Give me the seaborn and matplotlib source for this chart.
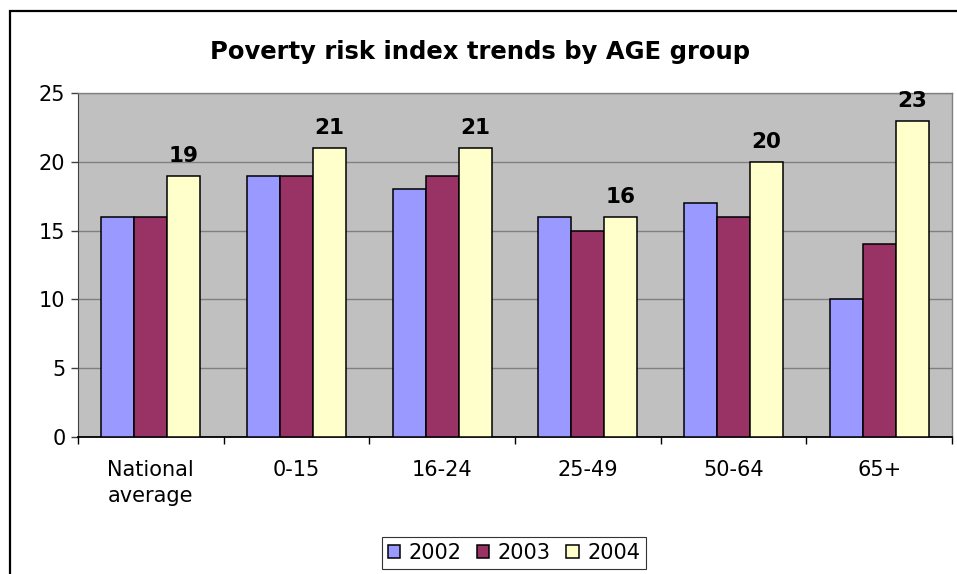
import numpy as np
import pandas as pd
import matplotlib
matplotlib.use('Agg')
import matplotlib.pyplot as plt
import seaborn as sns
from matplotlib.patches import Rectangle

groups = ['National\naverage', '0-15', '16-24', '25-49', '50-64', '65+']
years = ['2002', '2003', '2004']
vals_2002 = [16, 19, 18, 16, 17, 10]
vals_2003 = [16, 19, 19, 15, 16, 14]
vals_2004 = [19, 21, 21, 16, 20, 23]
colors = ['#9999FF', '#993366', '#FFFFCC']

df = pd.DataFrame({
    'group': groups * 3,
    'year': [y for y in years for _ in groups],
    'value': vals_2002 + vals_2003 + vals_2004,
})

sns.set_style('white')
plt.rcParams['font.family'] = ['DejaVu Sans']
plt.rcParams['text.color'] = 'black'
plt.rcParams['xtick.color'] = 'black'
plt.rcParams['ytick.color'] = 'black'
plt.rcParams['xtick.labelcolor'] = 'black'
plt.rcParams['ytick.labelcolor'] = 'black'

fig = plt.figure(figsize=(9.57, 5.74), dpi=100)
ax = fig.add_axes([0.0815, 0.2387, 0.9133, 0.5993])

sns.barplot(data=df, x='group', y='value', hue='year', palette=colors,
            order=groups, hue_order=years, width=0.68, edgecolor='black',
            linewidth=1.1, saturation=1, ax=ax, errorbar=None, legend=True,
            zorder=3)

ax.set_facecolor('#C0C0C0')
ax.set_ylim(0, 25)
ax.set_xlim(-0.5, len(groups) - 0.5)
ax.set_yticks([0, 5, 10, 15, 20, 25])
ax.yaxis.grid(True, color='#808080', linewidth=1.0, zorder=0)
ax.set_axisbelow(True)
ax.set_xlabel('')
ax.set_ylabel('')

for side in ['top', 'right']:
    ax.spines[side].set_color('#808080')
    ax.spines[side].set_linewidth(1.0)
ax.spines['left'].set_color('#404040')
ax.spines['bottom'].set_color('black')
ax.spines['bottom'].set_linewidth(1.3)

ax.tick_params(axis='y', left=True, direction='out', length=5, width=1,
               labelsize=15, pad=4, color='#404040')
ax.tick_params(axis='x', which='major', bottom=False, labelsize=15, pad=13)
ax.set_xticks(np.arange(-0.5, len(groups)), minor=True)
ax.tick_params(axis='x', which='minor', bottom=True, direction='out',
               length=5, width=1, color='black')
for lbl in ax.get_xticklabels():
    lbl.set_linespacing(1.4)

# data labels for 2004 only
ax.bar_label(ax.containers[2], labels=[str(v) for v in vals_2004],
             padding=7, fontsize=15.5, fontweight='bold')

fig.text(0.502, 0.909, 'Poverty risk index trends by AGE group',
         ha='center', va='center', fontsize=17.5, fontweight='bold')

handles, labels = ax.get_legend_handles_labels()
ax.get_legend().remove()
leg = fig.legend(handles, labels, loc='center', bbox_to_anchor=(0.537, 0.0366),
                 ncol=3, frameon=True, fancybox=False, fontsize=15,
                 handlelength=0.6, handleheight=0.6, handletextpad=0.4,
                 columnspacing=0.75, borderpad=0.28)
leg.get_frame().set_edgecolor('black')
leg.get_frame().set_linewidth(0.8)

# outer chart frame (cut off on the right and bottom)
fig.patches.append(Rectangle((10 / 957, -0.1), 1.2, 1 - 11 / 574 + 0.1,
                             transform=fig.transFigure, fill=False,
                             edgecolor='black', linewidth=1.6))

fig.savefig('out.png', dpi=100)
